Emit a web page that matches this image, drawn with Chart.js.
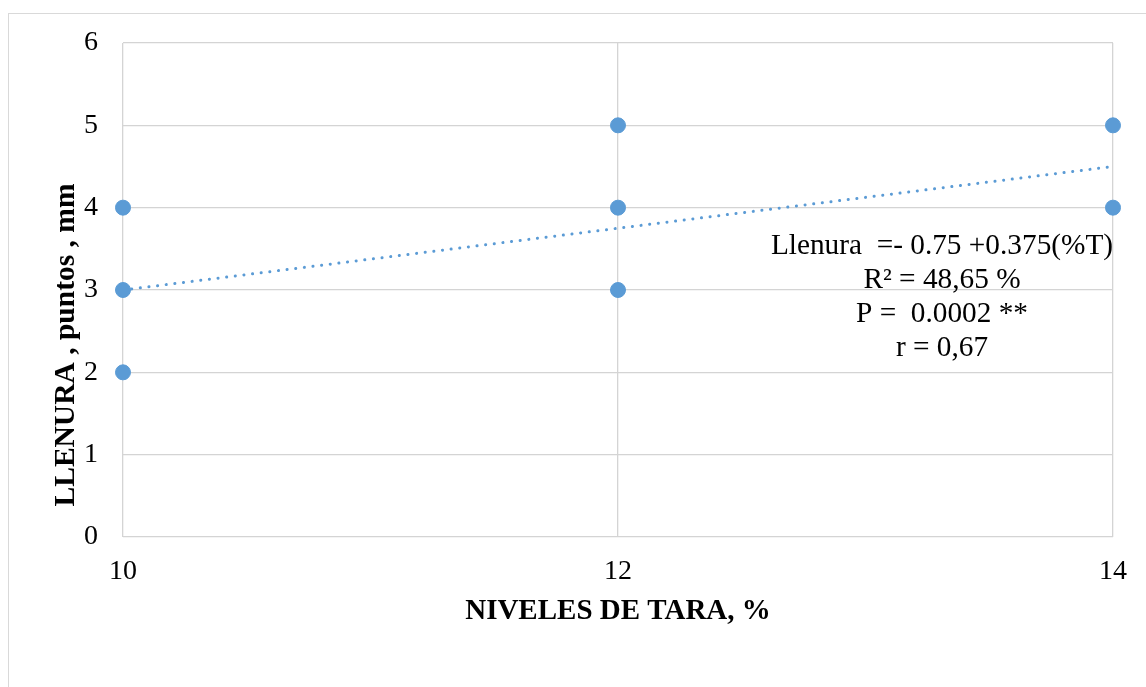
<!DOCTYPE html>
<html>
<head>
<meta charset="utf-8">
<script src="https://cdn.jsdelivr.net/npm/chart.js"></script>
<style>
  html, body { margin: 0; padding: 0; background: #fff; overflow: hidden; }
  #wrap { position: relative; width: 1146px; height: 687px; }
  #frame {
    position: absolute; left: 8px; top: 13px; width: 1400px; height: 900px;
    border: 1px solid #d9d9d9; box-sizing: border-box;
  }
  canvas { position: absolute; left: 0; top: 0; }
</style>
</head>
<body>
<div id="wrap">
  <div id="frame"></div>
  <canvas id="chart" width="1146" height="687"></canvas>
</div>
<script>
// Observed points (tara level %, llenura score)
const tara = [10, 10, 10, 12, 12, 12, 14, 14];
const llenura = [4, 3, 2, 5, 4, 3, 5, 4];

// Linear trend line ends
const trendX = [10, 14];
const trendY = [3.0, 4.5];

const xTicks = [10, 12, 14];
const yTicks = [0, 1, 2, 3, 4, 5, 6];

const annotationLines = [
  "Llenura  =- 0.75 +0.375(%T)",
  "R\u00B2 = 48,65 %",
  "P =  0.0002 **",
  "r = 0,67",
];

const yTitle = "LLENURA , puntos , mm";
const xTitle = "NIVELES DE TARA, %";

const serif = "'Liberation Serif', 'Times New Roman', serif";
const blue = "#5B9BD5";
const gridColor = "#d4d4d4";

// Draw the y title and the regression text box
const textPlugin = {
  id: "textPlugin",
  afterDraw(chart) {
    const ctx = chart.ctx;
    ctx.save();
    ctx.fillStyle = "#000";

    ctx.font = "bold 29.5px " + serif;
    ctx.textAlign = "center";
    ctx.textBaseline = "middle";
    ctx.translate(66, 345);
    ctx.rotate(-Math.PI / 2);
    ctx.fillText(yTitle, 0, 0);
    ctx.setTransform(1, 0, 0, 1, 0, 0);

    ctx.font = "29.3px " + serif;
    ctx.textBaseline = "alphabetic";
    const baselines = [254, 288, 322, 356];
    annotationLines.forEach((line, i) => {
      ctx.fillText(line, 942, baselines[i]);
    });
    ctx.restore();
  },
};

const canvas = document.getElementById("chart");

new Chart(canvas, {
  type: "scatter",
  data: {
    datasets: [
      {
        label: "Llenura",
        data: tara.map((x, i) => ({ x, y: llenura[i] })),
        backgroundColor: blue,
        borderColor: blue,
        pointRadius: 7.5,
        pointHoverRadius: 7.5,
        clip: false,
        order: 1,
      },
      {
        label: "Tendencia",
        type: "line",
        data: trendX.map((x, i) => ({ x, y: trendY[i] })),
        borderColor: blue,
        borderWidth: 3,
        borderDash: [0.1, 8.6],
        borderCapStyle: "round",
        pointRadius: 0,
        fill: false,
        clip: false,
        order: 2,
      },
    ],
  },
  options: {
    responsive: false,
    animation: false,
    layout: { padding: { top: 43, right: 33, left: 0, bottom: 0 } },
    plugins: {
      legend: { display: false },
      tooltip: { enabled: false },
    },
    scales: {
      x: {
        type: "linear",
        min: 10,
        max: 14,
        afterBuildTicks: (scale) => {
          scale.ticks = xTicks.map((v) => ({ value: v }));
        },
        afterFit: (scale) => {
          scale.height = 150;
        },
        grid: { color: gridColor, lineWidth: 1.3, drawTicks: false },
        border: { display: false },
        ticks: {
          padding: 18,
          color: "#000",
          font: { family: serif, size: 28 },
        },
        title: {
          display: true,
          text: xTitle,
          color: "#000",
          font: { family: serif, size: 29, weight: "bold" },
          padding: { top: 0, bottom: 58 },
        },
      },
      y: {
        min: 0,
        max: 6,
        afterBuildTicks: (scale) => {
          scale.ticks = yTicks.map((v) => ({ value: v }));
        },
        afterFit: (scale) => {
          scale.width = 123;
        },
        grid: { color: gridColor, lineWidth: 1.3, drawTicks: false },
        border: { display: false },
        ticks: {
          padding: 25,
          color: "#000",
          font: { family: serif, size: 28 },
        },
      },
    },
  },
  plugins: [textPlugin],
});
</script>
</body>
</html>
